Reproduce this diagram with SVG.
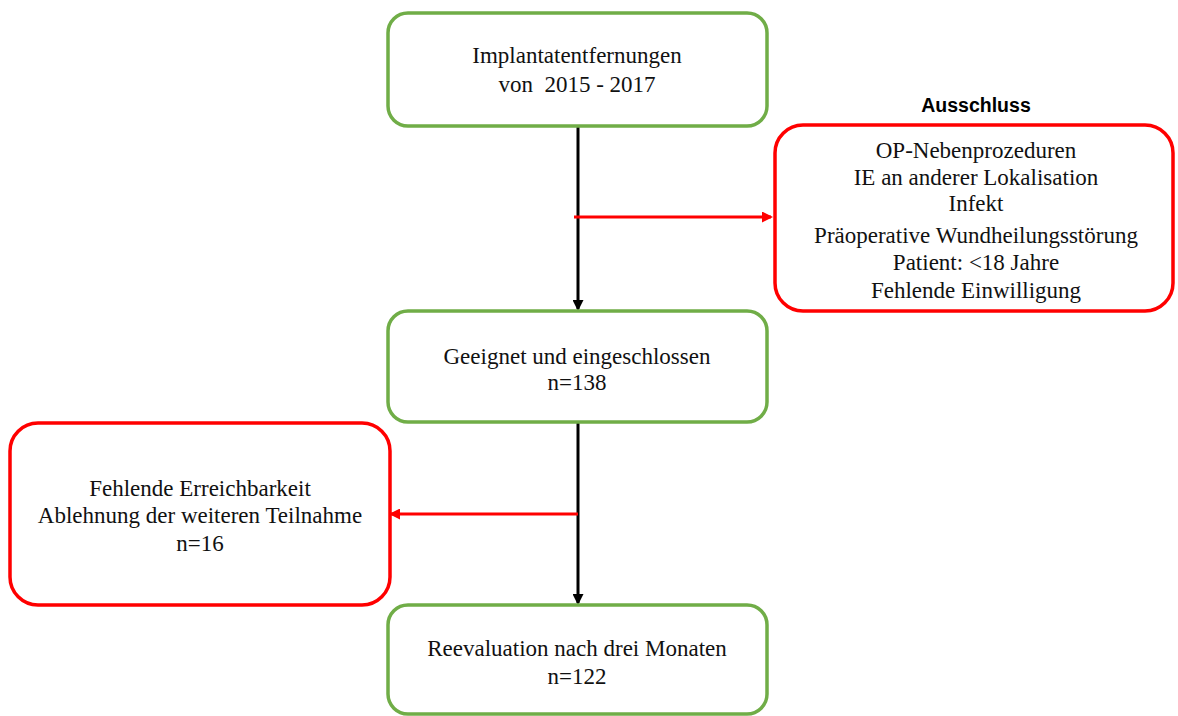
<svg xmlns="http://www.w3.org/2000/svg" width="1178" height="716" viewBox="0 0 1178 716">
<defs>
<style>
.g{fill:#fff;stroke:#70AD47;stroke-width:3.5}
.r{fill:#fff;stroke:#FF0000;stroke-width:3.5}
.t{font-family:"Liberation Serif","Times New Roman",serif;font-size:23px;fill:#111;text-anchor:middle}
.h{font-family:"Liberation Sans",Arial,sans-serif;font-size:19.5px;font-weight:bold;fill:#000;text-anchor:middle}
.k{stroke:#000;stroke-width:3;fill:none}
.rl{stroke:#FF0000;stroke-width:3;fill:none}
</style>
<marker id="ak" markerWidth="11" markerHeight="11" refX="9" refY="5.5" orient="auto" markerUnits="userSpaceOnUse" viewBox="0 0 11 11"><path d="M0,0 L11,5.5 L0,11 z" fill="#000"/></marker>
<marker id="ar" markerWidth="11" markerHeight="11" refX="9" refY="5.5" orient="auto" markerUnits="userSpaceOnUse" viewBox="0 0 11 11"><path d="M0,0 L11,5.5 L0,11 z" fill="#FF0000"/></marker>
</defs>
<rect width="1178" height="716" fill="#fff"/>
<g id="connectors">
<line class="k" x1="578" y1="127" x2="578" y2="309" marker-end="url(#ak)"/>
<line class="k" x1="578" y1="423" x2="578" y2="603" marker-end="url(#ak)"/>
<line class="rl" x1="574" y1="217" x2="771" y2="217" marker-end="url(#ar)"/>
<line class="rl" x1="578" y1="514" x2="391" y2="514" marker-end="url(#ar)"/>
</g>
<g id="n1">
<rect class="g" x="388" y="13" width="379" height="113" rx="20"/>
<text class="t" x="577" y="63">Implantatentfernungen</text>
<text class="t" x="577" y="92" xml:space="preserve">von  2015 - 2017</text>
</g>
<g id="n2">
<rect class="g" x="388" y="311" width="379" height="111" rx="20"/>
<text class="t" x="577" y="364">Geeignet und eingeschlossen</text>
<text class="t" x="577" y="390">n=138</text>
</g>
<g id="n3">
<rect class="g" x="388" y="605" width="379" height="109" rx="20"/>
<text class="t" x="577" y="656">Reevaluation nach drei Monaten</text>
<text class="t" x="577" y="684">n=122</text>
</g>
<g id="n4">
<text class="h" x="976" y="112">Ausschluss</text>
<rect class="r" x="775" y="125" width="398" height="186" rx="28"/>
<text class="t" x="976" y="158">OP-Nebenprozeduren</text>
<text class="t" x="976" y="185">IE an anderer Lokalisation</text>
<text class="t" x="976" y="211">Infekt</text>
<text class="t" x="976" y="243">Präoperative Wundheilungsstörung</text>
<text class="t" x="976" y="270">Patient: &lt;18 Jahre</text>
<text class="t" x="976" y="298">Fehlende Einwilligung</text>
</g>
<g id="n5">
<rect class="r" x="10" y="423" width="380" height="182" rx="28"/>
<text class="t" x="200" y="496">Fehlende Erreichbarkeit</text>
<text class="t" x="200" y="523">Ablehnung der weiteren Teilnahme</text>
<text class="t" x="200" y="551">n=16</text>
</g>
</svg>
